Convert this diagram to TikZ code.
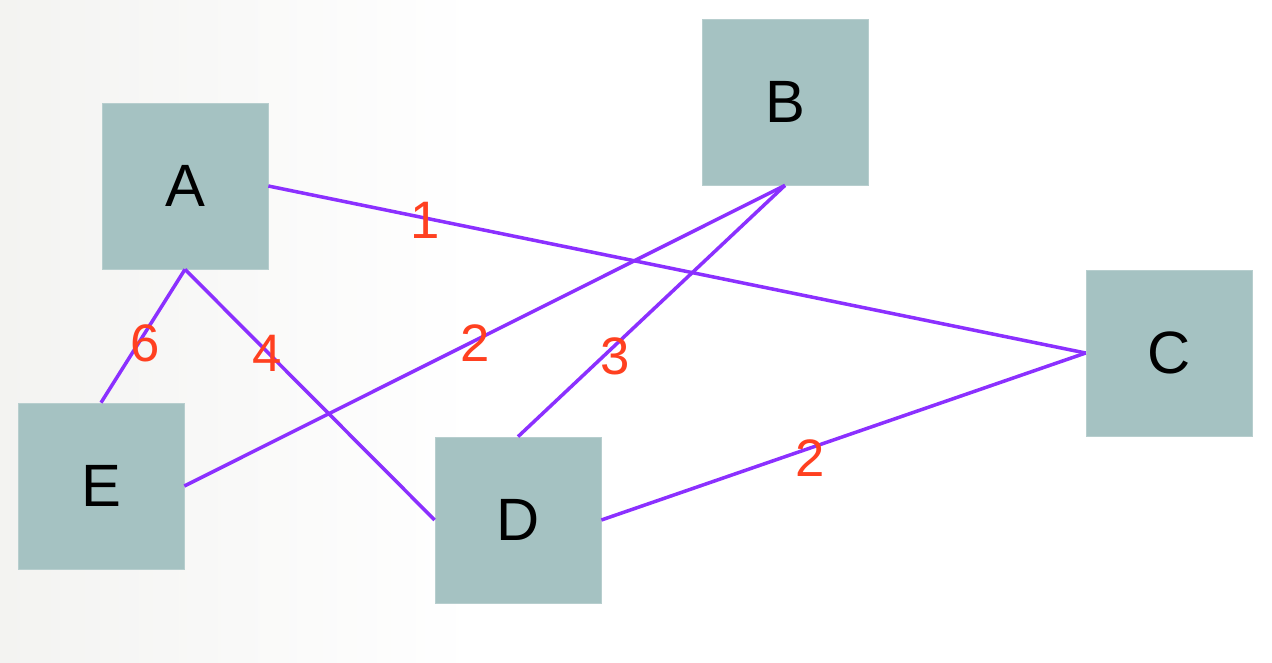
\documentclass[tikz,border=0pt]{standalone}
\usepackage{fontspec}
\setmainfont{Liberation Sans}
\usetikzlibrary{positioning}
\definecolor{GBox}{HTML}{A5C2C2}
\definecolor{GEdge}{HTML}{8B30FF}
\definecolor{GWeight}{HTML}{FF4020}
\definecolor{GBack}{HTML}{F3F3F1}
\tikzset{
  vertex/.style={fill=GBox,draw=GBox!80!white,line width=0.4pt,minimum size=3.32cm,
                 inner sep=0pt,text=black,font=\fontsize{34}{40}\selectfont},
  edge/.style={GEdge,line width=2pt},
  weight/.style={text=GWeight,inner sep=0pt,font=\fontsize{30}{36}\selectfont},
}

\begin{document}
\begin{tikzpicture}
    \useasboundingbox (0,0) rectangle (25.44,-13.24);
    % faint backdrop on the left side
    \shade[left color=GBack,right color=white] (0,0) rectangle (9.5,-13.24);

    \node[vertex] (A) at (3.70,-3.72)  {A};
    \node[vertex] (B) at (15.70,-2.04) {B};
    \node[vertex] (C) at (23.38,-7.06) {C};
    \node[vertex] (E) at (2.02,-9.72)  {E};
    \node[vertex] (D) at (10.36,-10.40) {D};

    \foreach \a/\b in {A.east/C.west,B.south/E.east,B.south/D.north,
                       A.south/E.north,A.south/D.west,D.east/C.west}{
      \draw[edge] (\a)--(\b);
    }

    \node[weight] (wAC) at (8.50,-4.40)  {1};
    \node[weight] (wBE) at (9.50,-6.86)  {2};
    \node[weight] (wBD) at (12.30,-7.12) {3};
    \node[weight] (wAE) at (2.90,-6.86)  {6};
    \node[weight] (wAD) at (5.34,-7.06)  {4};
    \node[weight] (wDC) at (16.20,-9.16) {2};
  \end{tikzpicture}
\end{document}
